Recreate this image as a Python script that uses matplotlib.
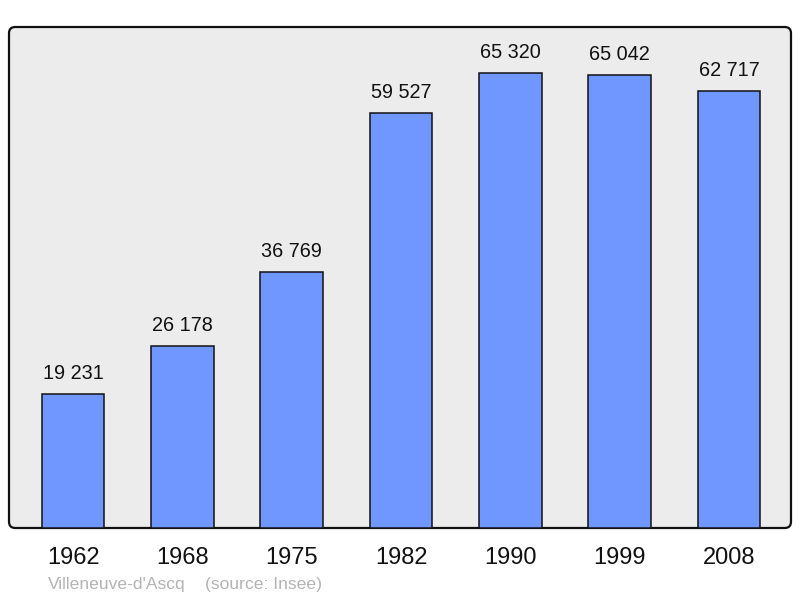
import matplotlib
matplotlib.use("Agg")
import matplotlib.pyplot as plt
from matplotlib.patches import FancyBboxPatch

years = ["1962", "1968", "1975", "1982", "1990", "1999", "2008"]
population = [19231, 26178, 36769, 59527, 65320, 65042, 62717]
value_labels = ["19 231", "26 178", "36 769", "59 527", "65 320", "65 042", "62 717"]

plt.rcParams['font.family'] = ['Liberation Sans', 'DejaVu Sans']

fig = plt.figure(figsize=(8, 5.98), dpi=100)
W, H = 800, 598
left, right, top, bottom = 9, 791, 27, 528
ax = fig.add_axes([left / W, 1 - bottom / H, (right - left) / W, (bottom - top) / H])
ax.set_facecolor('none')
for s in ax.spines.values():
    s.set_visible(False)

box = FancyBboxPatch((0, 0), 1, 1, boxstyle="round,pad=0,rounding_size=0.008",
                     transform=ax.transAxes, facecolor='#ececec', edgecolor='#111111',
                     linewidth=1.6, clip_on=False, zorder=0, mutation_aspect=782/501)
ax.add_patch(box)

x = list(range(len(years)))
bars = ax.bar(x, population, width=0.575, color='#7097ff', edgecolor='#111111',
              linewidth=1.1, zorder=2)
ax.set_xlim(-0.586, 6.567)
ax.set_ylim(0, 65320 * 501 / 455)

for xi, v, lab in zip(x, population, value_labels):
    ax.annotate(lab, (xi, v), xytext=(0, 8), textcoords='offset points',
                ha='center', va='bottom', fontsize=14.3, color='#111111')

ax.set_xticks(x)
ax.set_xticklabels(years, fontsize=17, color='#111111')
ax.tick_params(axis='x', length=0, pad=14)
ax.set_yticks([])

fig.text(48 / W, 1 - 584 / H, "Villeneuve-d'Ascq", fontsize=12.6,
         color='#b4b4b4', ha='left', va='center')
fig.text(205 / W, 1 - 584 / H, "(source: Insee)", fontsize=12.6,
         color='#b4b4b4', ha='left', va='center')

fig.savefig("out.png", dpi=100, facecolor='white')
